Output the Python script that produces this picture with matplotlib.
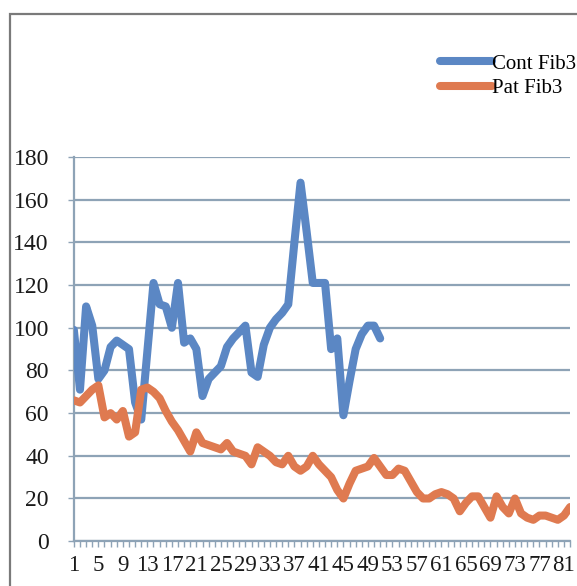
import matplotlib.pyplot as plt
from matplotlib.patches import Rectangle

# values
cont_fib3 = [99, 71, 110, 101, 76, 80, 91, 94, 92, 90,
             65, 57, 89, 121, 111, 110, 100, 121, 93, 95,
             90, 68, 76, 79, 82, 91, 95, 98, 101, 79,
             77, 92, 100, 104, 107, 111, 140, 168, 145, 121,
             121, 121, 90, 95, 59, 75, 90, 97, 101, 101,
             95]
pat_fib3 = [66, 65, 68, 71, 73, 58, 60, 57, 61, 49,
            51, 71, 72, 70, 67, 61, 56, 52, 47, 42,
            51, 46, 45, 44, 43, 46, 42, 41, 40, 36,
            44, 42, 40, 37, 36, 40, 35, 33, 35, 40,
            36, 33, 30, 24, 20, 27, 33, 34, 35, 39,
            35, 31, 31, 34, 33, 28, 23, 20, 20, 22,
            23, 22, 20, 14, 18, 21, 21, 16, 11, 21,
            16, 13, 20, 13, 11, 10, 12, 12, 11, 10,
            12, 16]
labels = ['Cont Fib3', 'Pat Fib3']

x_cont = list(range(1, len(cont_fib3) + 1))
x_pat = list(range(1, len(pat_fib3) + 1))

plt.rcParams['font.family'] = ['Liberation Serif', 'DejaVu Serif']

fig = plt.figure(figsize=(5.77, 5.86), dpi=100)
ax = fig.add_axes([0.128, 0.0765, 0.860, 0.6555])

# outer chart frame
fig.patches.append(Rectangle((10 / 577, -0.05), 1.2, 1 - 14 / 586 + 0.05,
                             transform=fig.transFigure, fill=False,
                             edgecolor='#7a7a7a', linewidth=1.6))

grid_col = '#8ea3b6'
ax.plot(x_cont, cont_fib3, color='#5b87c4', lw=5.8, label=labels[0],
        solid_joinstyle='round', solid_capstyle='round', zorder=3)
ax.plot(x_pat, pat_fib3, color='#df7a50', lw=5.8, label=labels[1],
        solid_joinstyle='round', solid_capstyle='round', zorder=3)

ax.set_xlim(1, len(pat_fib3))
ax.set_ylim(0, 180)
ax.set_yticks(range(0, 181, 20))
ax.set_xticks(x_pat)
ax.set_xticklabels([str(i) if (i - 1) % 4 == 0 else '' for i in x_pat])

ax.grid(axis='y', color=grid_col, lw=1.6)
ax.set_axisbelow(True)
for s in ['top', 'right']:
    ax.spines[s].set_visible(False)
for s in ['left', 'bottom']:
    ax.spines[s].set_color(grid_col)
    ax.spines[s].set_linewidth(1.6)

ax.tick_params(axis='x', length=4, width=1, color=grid_col, pad=6,
               labelsize=16.5, labelcolor='#1a1a1a')
ax.tick_params(axis='y', length=4, width=1, color=grid_col, pad=14,
               labelsize=17, labelcolor='#1a1a1a')

fig.legend(loc='upper left', bbox_to_anchor=(0.748, 0.922), frameon=False,
           fontsize=15, handlelength=2.5, handletextpad=0.0,
           labelspacing=0.25, borderaxespad=0)

fig.savefig('out.png', dpi=100)
